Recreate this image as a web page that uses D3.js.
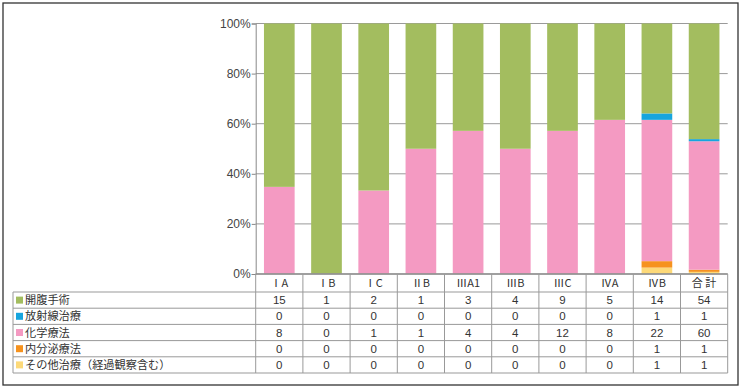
<!DOCTYPE html>
<html><head><meta charset="utf-8">
<script src="https://cdn.jsdelivr.net/npm/d3@7"></script>
<style>body{margin:0;background:#fff}svg{display:block}</style>
</head><body>
<svg id="c" width="743" height="390"></svg>
<script>
const categories = ["ⅠA","ⅠB","ⅠC","ⅡB","ⅢA1","ⅢB","ⅢC","ⅣA","ⅣB","合 計"];
const seriesNames = ["開腹手術","放射線治療","化学療法","内分泌療法","その他治療（経過観察含む）"];
const seriesColors = ["#a3bd5f","#17a5de","#f49ac2","#f6921e","#fdd978"];
const surgery   = [15,1,2,1,3,4,9,5,14,54];
const radiation = [0,0,0,0,0,0,0,0,1,1];
const chemo     = [8,0,1,1,4,4,12,8,22,60];
const endocrine = [0,0,0,0,0,0,0,0,1,1];
const other     = [0,0,0,0,0,0,0,0,1,1];
const yTicks = [0,0.2,0.4,0.6,0.8,1];

(function(){
const seriesValues = [surgery, radiation, chemo, endocrine, other];
const rows = categories.map((c,i)=>{
  const o = {cat:c};
  seriesNames.forEach((s,j)=>o[s]=seriesValues[j][i]);
  return o;
});
const svg = d3.select("#c");
const color = d3.scaleOrdinal(seriesNames, seriesColors);

// frame
svg.append("rect").attr("x",3).attr("y",3).attr("width",735).attr("height",382)
  .attr("fill","none").attr("stroke","#333").attr("stroke-width",1.3);

const pLeft = 255.7, pRight = 727.7, pTop = 23.5, pBottom = 274;
const x = d3.scaleBand(categories,[pLeft,pRight]).paddingInner(0.35).paddingOuter(0.175);
const y = d3.scaleLinear([0,1],[pBottom,pTop]);
const step = x.step();

// gridlines
svg.append("g").selectAll("line").data(yTicks.filter(t=>t>0)).join("line")
  .attr("x1",pLeft).attr("x2",pRight).attr("y1",d=>y(d)).attr("y2",d=>y(d))
  .attr("stroke","#9a9a9a").attr("stroke-width",1);

// bars
const stack = d3.stack().keys(seriesNames.slice().reverse()).offset(d3.stackOffsetExpand);
const layers = stack(rows);
svg.append("g").selectAll("g").data(layers).join("g")
  .attr("fill",d=>color(d.key))
  .selectAll("rect").data(d=>d).join("rect")
  .attr("x",d=>x(d.data.cat)).attr("width",x.bandwidth())
  .attr("y",d=>y(d[1])).attr("height",d=>Math.max(0,y(d[0])-y(d[1])));

// y axis
const yAxis = d3.axisLeft(y).tickValues(yTicks).tickFormat(d3.format(".0%")).tickSize(4);
const ga = svg.append("g").attr("transform",`translate(${pLeft},0)`).call(yAxis);
ga.select(".domain").attr("stroke","#888");
ga.selectAll(".tick line").attr("stroke","#888");
ga.selectAll(".tick text").attr("font-family","Liberation Sans, Arial, sans-serif")
  .attr("font-size",12).attr("fill","#444").attr("x",-5);
// baseline
svg.append("line").attr("x1",pLeft).attr("x2",pRight).attr("y1",pBottom).attr("y2",pBottom)
  .attr("stroke","#888").attr("stroke-width",1.5);

// table
const tblLeft = 13, hdrTop = 274, hdrBot = 292, rowH = 16.2;
const tableBottom = hdrBot + rowH*seriesNames.length;
const tg = svg.append("g");
const lineC = "#999";
tg.append("line").attr("x1",pLeft).attr("x2",pRight).attr("y1",hdrTop).attr("y2",hdrTop).attr("stroke",lineC);
d3.range(seriesNames.length+1).forEach(i=>{
  const yy = hdrBot + i*rowH;
  tg.append("line").attr("x1",tblLeft).attr("x2",pRight).attr("y1",yy).attr("y2",yy).attr("stroke",lineC);
});
tg.append("line").attr("x1",tblLeft).attr("x2",tblLeft).attr("y1",hdrBot).attr("y2",tableBottom).attr("stroke",lineC);
categories.forEach((c,i)=>{
  const xx = x(c) - step*0.175;
  tg.append("line").attr("x1",xx).attr("x2",xx).attr("y1",hdrTop).attr("y2",tableBottom).attr("stroke",lineC);
});
tg.append("line").attr("x1",pRight).attr("x2",pRight).attr("y1",hdrTop).attr("y2",tableBottom).attr("stroke",lineC);

tg.selectAll("text.h").data(categories).join("text").attr("class","h")
  .attr("x",d=>x(d)+x.bandwidth()/2).attr("y",(hdrTop+hdrBot)/2+4)
  .attr("text-anchor","middle").attr("font-family","Noto Sans CJK JP, sans-serif")
  .attr("font-size",11).attr("fill","#333").text(d=>d);

seriesNames.forEach((s,j)=>{
  const cy = hdrBot + j*rowH + rowH/2;
  tg.append("rect").attr("x",16).attr("y",cy-3.5).attr("width",7).attr("height",7).attr("fill",seriesColors[j]);
  tg.append("text").attr("x",25).attr("y",cy+4).attr("font-family","Noto Sans CJK JP, sans-serif")
    .attr("font-size",11.2).attr("fill","#333").text(s);
  tg.selectAll(null).data(seriesValues[j]).join("text")
    .attr("x",(d,i)=>x(categories[i])+x.bandwidth()/2).attr("y",cy+4)
    .attr("text-anchor","middle").attr("font-family","Liberation Sans, Arial, sans-serif")
    .attr("font-size",11.5).attr("fill","#333").text(d=>d);
});
})();
</script>
</body></html>
